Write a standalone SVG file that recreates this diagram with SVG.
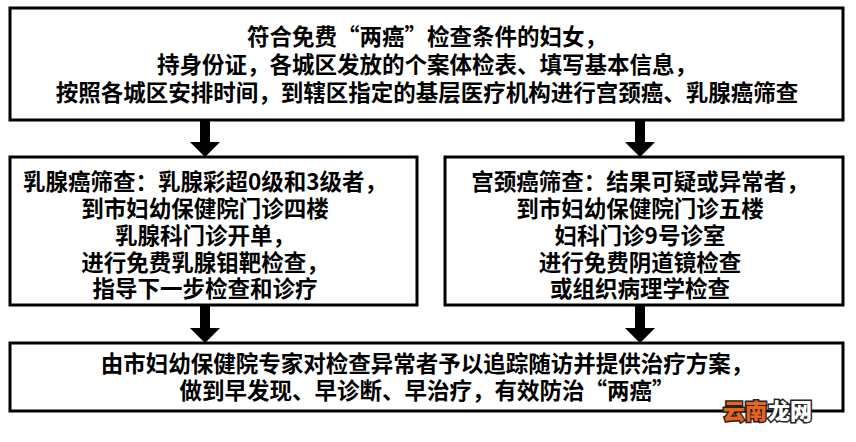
<svg xmlns="http://www.w3.org/2000/svg" width="856" height="442" viewBox="0 0 856 442">
<style>
.b{fill:#fff;stroke:#000;stroke-width:3}
.t{font-family:"Noto Sans CJK SC",sans-serif;font-size:22.5px;font-weight:700;fill:#000;text-anchor:middle}
.a{fill:#000}
</style>
<rect width="856" height="442" fill="#fff"/>
<g id="top"><rect class="b" x="10" y="8" width="833" height="112"/>
<text class="t" x="427" y="45">符合免费“两癌”检查条件的妇女，</text>
<text class="t" x="427" y="73">持身份证，各城区发放的个案体检表、填写基本信息，</text>
<text class="t" x="427" y="101">按照各城区安排时间，到辖区指定的基层医疗机构进行宫颈癌、乳腺癌筛查</text></g>
<g id="left"><rect class="b" x="10" y="157" width="407" height="148"/>
<text class="t" x="205" y="190">乳腺癌筛查：乳腺彩超0级和3级者，</text>
<text class="t" x="205" y="217">到市妇幼保健院门诊四楼</text>
<text class="t" x="205" y="244">乳腺科门诊开单，</text>
<text class="t" x="205" y="271">进行免费乳腺钼靶检查，</text>
<text class="t" x="205" y="297">指导下一步检查和诊疗</text></g>
<g id="right"><rect class="b" x="445" y="157" width="398" height="148"/>
<text class="t" x="640" y="190">宫颈癌筛查：结果可疑或异常者，</text>
<text class="t" x="640" y="217">到市妇幼保健院门诊五楼</text>
<text class="t" x="640" y="244">妇科门诊9号诊室</text>
<text class="t" x="640" y="271">进行免费阴道镜检查</text>
<text class="t" x="640" y="297">或组织病理学检查</text></g>
<g id="bottom"><rect class="b" x="10" y="343" width="833" height="68"/>
<text class="t" x="427" y="372">由市妇幼保健院专家对检查异常者予以追踪随访并提供治疗方案，</text>
<text class="t" x="427" y="399">做到早发现、早诊断、早治疗，有效防治“两癌”</text></g>
<g id="connectors">
<path class="a" d="M200 120h10v22h10l-15 15l-15-15h10z"/>
<path class="a" d="M635 120h10v22h10l-15 15l-15-15h10z"/>
<path class="a" d="M200 305h10v23h10l-15 15l-15-15h10z"/>
<path class="a" d="M635 305h10v23h10l-15 15l-15-15h10z"/>
</g>
<g id="watermark" font-family="Noto Sans CJK SC,sans-serif" font-size="22" font-weight="900" stroke="#222" stroke-width="3" paint-order="stroke">
<text x="723" y="419" fill="#e8641a">云南</text><text x="768" y="419" fill="#fff">龙网</text></g>
</svg>
